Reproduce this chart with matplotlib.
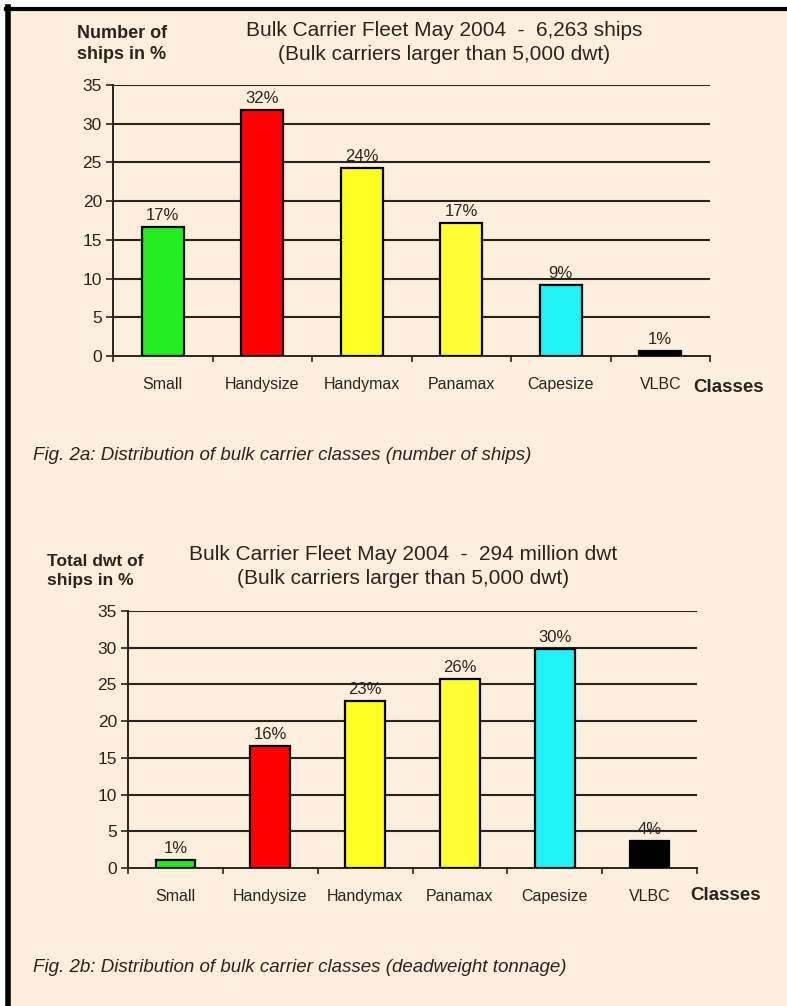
import matplotlib
matplotlib.use('Agg')
import matplotlib.pyplot as plt
from matplotlib.patches import Rectangle
from matplotlib.lines import Line2D

# Fleet composition, May 2004
classes = ['Small', 'Handysize', 'Handymax', 'Panamax', 'Capesize', 'VLBC']
ships_pct = [16.7, 31.8, 24.3, 17.2, 9.2, 0.6]
ships_labels = ['17%', '32%', '24%', '17%', '9%', '1%']
dwt_pct = [1.1, 16.6, 22.7, 25.7, 29.8, 3.7]
dwt_labels = ['1%', '16%', '23%', '26%', '30%', '4%']
bar_colors = ['#22ee22', '#ff0000', '#ffff22', '#ffff33', '#22f2f8', '#000000']
yticks = [0, 5, 10, 15, 20, 25, 30, 35]

W, H = 787, 1006
BG = '#fcefdc'
INK = '#2a2420'
plt.rcParams['font.family'] = ['Liberation Sans', 'DejaVu Sans']


def fx(px):
    return px / W


def fy(py):
    return 1 - py / H


def bar_panel(fig, rect, values, labels):
    ax = fig.add_axes(rect)
    ax.set_facecolor('none')
    x = range(len(classes))
    ax.bar(x, values, width=0.42, color=bar_colors, edgecolor='black',
           linewidth=1.6, zorder=3)
    for xi, v, lab in zip(x, values, labels):
        ax.annotate(lab, (xi, v), xytext=(0, 3), textcoords='offset points',
                    ha='center', va='bottom', fontsize=12, color=INK,
                    zorder=4)
    ax.set_xlim(-0.5, len(classes) - 0.5)
    ax.set_ylim(0, 35)
    ax.set_yticks(yticks)
    ax.tick_params(axis='y', length=5, width=1.2, color=INK, labelsize=12.5,
                   labelcolor=INK, pad=3)
    ax.set_xticks([i - 0.5 for i in range(len(classes) + 1)])
    ax.set_xticklabels([])
    ax.set_xticks(list(x), minor=True)
    ax.set_xticklabels(classes, minor=True, fontsize=11.5, color=INK)
    ax.tick_params(axis='x', which='major', length=4, width=1.2, color=INK)
    ax.tick_params(axis='x', which='minor', length=0, pad=15)
    for yv in yticks[1:]:
        ax.axhline(yv, color=INK, linewidth=1.5, zorder=1)
    for s in ('top', 'right'):
        ax.spines[s].set_visible(False)
    for s in ('left', 'bottom'):
        ax.spines[s].set_color(INK)
        ax.spines[s].set_linewidth(1.4)
    return ax


fig = plt.figure(figsize=(W / 100, H / 100), dpi=100)
fig.patch.set_facecolor('white')
fig.add_artist(Rectangle((fx(8), 0), 1, fy(8), transform=fig.transFigure,
                         facecolor=BG, edgecolor='none', zorder=0))
fig.add_artist(Line2D([fx(6), 1], [fy(8.5), fy(8.5)], color='black',
                      linewidth=3, transform=fig.transFigure))
fig.add_artist(Line2D([fx(8), fx(8)], [0, fy(7)], color='black',
                      linewidth=4, transform=fig.transFigure))

# Fig. 2a: number of ships
bar_panel(fig, [fx(113), fy(356), 597 / W, 271 / H], ships_pct, ships_labels)
fig.text(fx(444), fy(30), 'Bulk Carrier Fleet May 2004  -  6,263 ships',
         ha='center', va='center', fontsize=15, color=INK)
fig.text(fx(444), fy(55), '(Bulk carriers larger than 5,000 dwt)',
         ha='center', va='center', fontsize=15, color=INK)
fig.text(fx(77), fy(44), 'Number of\nships in %', ha='left', va='center',
         fontsize=13, fontweight='bold', color=INK, linespacing=1.3)
fig.text(fx(693), fy(387), 'Classes', ha='left', va='center', fontsize=13.5,
         fontweight='bold', color=INK)
fig.text(fx(33), fy(456),
         'Fig. 2a: Distribution of bulk carrier classes (number of ships)',
         ha='left', va='center', fontsize=13.5, style='italic', color=INK)

# Fig. 2b: deadweight tonnage
bar_panel(fig, [fx(128), fy(868), 569 / W, 257 / H], dwt_pct, dwt_labels)
fig.text(fx(403), fy(555), 'Bulk Carrier Fleet May 2004  -  294 million dwt',
         ha='center', va='center', fontsize=15, color=INK)
fig.text(fx(403), fy(579), '(Bulk carriers larger than 5,000 dwt)',
         ha='center', va='center', fontsize=15, color=INK)
fig.text(fx(47), fy(571), 'Total dwt of\nships in %', ha='left', va='center',
         fontsize=12.5, fontweight='bold', color=INK, linespacing=1.3)
fig.text(fx(690), fy(895), 'Classes', ha='left', va='center', fontsize=13.5,
         fontweight='bold', color=INK)
fig.text(fx(33), fy(968),
         'Fig. 2b: Distribution of bulk carrier classes (deadweight tonnage)',
         ha='left', va='center', fontsize=13.5, style='italic', color=INK)

fig.savefig('out.png', dpi=100, facecolor=fig.get_facecolor())
